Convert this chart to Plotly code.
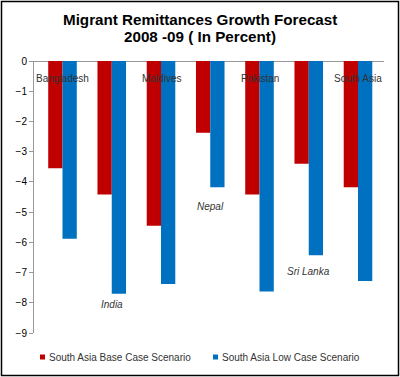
import plotly.graph_objects as go

categories = ["Bangladesh", "India", "Maldives", "Nepal", "Pakistan", "Sri Lanka", "South Asia"]
base_case = [-3.55, -4.42, -5.45, -2.37, -4.42, -3.4, -4.18]
low_case = [-5.88, -7.7, -7.38, -4.18, -7.63, -6.43, -7.28]
tick_vals = [0, -1, -2, -3, -4, -5, -6, -7, -8, -9]
series_names = ["South Asia Base Case Scenario", "South Asia Low Case Scenario"]
series_colors = ["#C00000", "#0070C0"]
title_lines = ["Migrant Remittances Growth Forecast", "2008 -09 ( In Percent)"]

# label placement (y in data units) and style, as in the original
label_y = [-0.58, -8.05, -0.58, -4.8, -0.58, -6.95, -0.58]
label_italic = [False, True, False, True, False, True, False]

W, H = 400, 377
ml, mr, mt, mb = 34, 16, 61, 44
pw = W - ml - mr
ph = H - mt - mb
FONT = "Liberation Sans, Arial"

def px_x(p):
    return (p - ml) / pw

def px_y(p):
    return 1 - (p - mt) / ph

fig = go.Figure()
for vals, name, col in zip([base_case, low_case], series_names, series_colors):
    fig.add_trace(go.Bar(x=categories, y=vals, name=name,
                         marker=dict(color=col, line=dict(width=0))))

annotations = []
for c, yv, it in zip(categories, label_y, label_italic):
    txt = f"<i>{c}</i>" if it else c
    annotations.append(dict(x=c, y=yv, xref="x", yref="y", text=txt, showarrow=False,
                            font=dict(family=FONT, size=10, color="#333333")))

# title, two lines placed like the original
for line, ty in zip(title_lines, [19, 36]):
    annotations.append(dict(x=px_x(200), y=px_y(ty), xref="paper", yref="paper",
                            xanchor="center", yanchor="middle", text=f"<b>{line}</b>",
                            showarrow=False,
                            font=dict(family=FONT, size=15.2, color="black")))

shapes = [dict(type="rect", xref="paper", yref="paper",
               x0=px_x(1.5), x1=px_x(398.5), y0=px_y(375.5), y1=px_y(1.5),
               line=dict(color="black", width=1.5), fillcolor="rgba(0,0,0,0)", layer="above")]

# manual legend (small squares like the original)
leg_x = [40, 213]
leg_y = 357
for lx, name, col in zip(leg_x, series_names, series_colors):
    shapes.append(dict(type="rect", xref="paper", yref="paper",
                       x0=px_x(lx), x1=px_x(lx + 5), y0=px_y(leg_y + 2.5), y1=px_y(leg_y - 2.5),
                       line=dict(width=0), fillcolor=col))
    annotations.append(dict(x=px_x(lx + 7), y=px_y(leg_y), xref="paper", yref="paper",
                            xanchor="left", yanchor="middle", text=name, showarrow=False,
                            font=dict(family=FONT, size=10, color="#333333")))

fig.update_layout(
    width=W, height=H,
    margin=dict(l=ml, r=mr, t=mt, b=mb, autoexpand=False),
    paper_bgcolor="white", plot_bgcolor="white",
    barmode="group", bargap=0.42, bargroupgap=0,
    xaxis=dict(showticklabels=False, showline=False, ticks="", showgrid=False, zeroline=False),
    yaxis=dict(range=[-9, 0], tickvals=tick_vals, showgrid=False, zeroline=True,
               zerolinecolor="#999999", zerolinewidth=1,
               showline=True, linecolor="#999999", linewidth=1,
               ticks="outside", ticklen=4, tickcolor="#999999",
               tickfont=dict(family=FONT, size=10, color="black")),
    showlegend=False,
    annotations=annotations,
    shapes=shapes,
)

fig.write_html("out.html", config={"displayModeBar": False},
               post_script="document.body.style.margin='0';")
